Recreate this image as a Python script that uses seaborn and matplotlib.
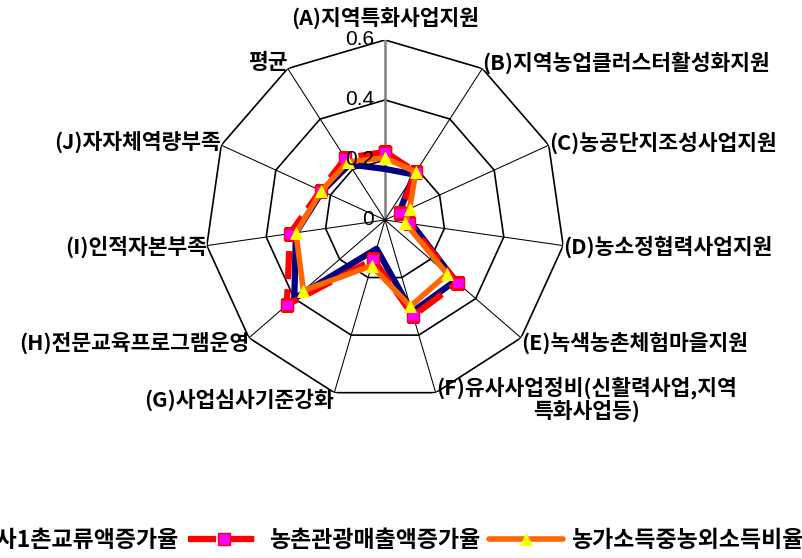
import matplotlib
matplotlib.use('Agg')

import numpy as np
import pandas as pd
import matplotlib.pyplot as plt
import seaborn as sns

# === data ===
categories = ["(A)지역특화사업지원", "(B)지역농업클러스터활성화지원", "(C)농공단지조성사업지원",
              "(D)농소정협력사업지원", "(E)녹색농촌체험마을지원",
              "(F)유사사업정비(신활력사업,지역\n특화사업등)", "(G)사업심사기준강화",
              "(H)전문교육프로그램운영", "(I)인적자본부족", "(J)자자체역량부족", "평균"]
exchange = [0.17, 0.18, 0.05, 0.09, 0.31, 0.32, 0.10, 0.40, 0.30, 0.23, 0.22]
tourism = [0.227, 0.19, 0.055, 0.08, 0.32, 0.333, 0.137, 0.433, 0.32, 0.236, 0.245]
income = [0.207, 0.19, 0.09, 0.068, 0.275, 0.30, 0.159, 0.36, 0.30, 0.233, 0.23]
series_names = ["1사1촌교류액증가율", "농촌관광매출액증가율", "농가소득중농외소득비율"]
ticks = [0, 0.2, 0.4, 0.6]

sns.set_style("white")
plt.rcParams['font.family'] = ['Noto Sans CJK KR', 'DejaVu Sans']
plt.rcParams['text.color'] = 'black'

n = len(categories)
theta = np.linspace(0, 2 * np.pi, n, endpoint=False)
theta_c = np.append(theta, theta[0])

fig = plt.figure(figsize=(8.02, 5.58), dpi=100)
ax = fig.add_axes([0.2556, 0.2832, 0.4489, 0.6452], projection='polar')
ax.set_theta_zero_location('N')
ax.set_theta_direction(-1)
ax.grid(False)
ax.spines['polar'].set_visible(False)
ax.set_xticks([])
ax.set_yticks([])

# polygon grid + spokes
for r in ticks[1:]:
    ax.plot(theta_c, [r] * (n + 1), color='black', lw=1.2, zorder=1)
for i, t in enumerate(theta):
    if i == 0:
        ax.plot([t, t], [0, ticks[-1]], color='#808080', lw=1.8, zorder=1)
    else:
        ax.plot([t, t], [0, ticks[-1]], color='black', lw=0.75, zorder=1)

# series
def close(v):
    return list(v) + [v[0]]

df = pd.DataFrame({"theta": theta_c, "exchange": close(exchange),
                   "tourism": close(tourism), "income": close(income)})

sns.lineplot(data=df, x="theta", y="exchange", ax=ax, sort=False, estimator=None,
             color='#000080', lw=4.5, label=series_names[0], zorder=3)
sns.lineplot(data=df, x="theta", y="tourism", ax=ax, sort=False, estimator=None,
             color='#FF0000', lw=4.5, dashes=(4.5, 1.6), marker='s', markersize=8,
             markerfacecolor='#FF00FF', markeredgecolor='#FF0000', markeredgewidth=1.0,
             label=series_names[1], zorder=4)
sns.lineplot(data=df, x="theta", y="income", ax=ax, sort=False, estimator=None,
             color='#FF6600', lw=4.0, marker='^', markersize=9,
             markerfacecolor='#FFFF00', markeredgecolor='#FFFF00', markeredgewidth=0.5,
             label=series_names[2], zorder=5)
ax.set_xlabel('')
ax.set_ylabel('')
ax.set_ylim(0, ticks[-1])

# value labels along the top spoke
for v in ticks:
    ax.annotate(f"{v:g}", xy=(0, v), xytext=(-8, 0), textcoords='offset points',
                ha='right', va='center', fontsize=15, color='black',
                family='Liberation Sans', zorder=6)

# category labels at outer vertices
for i, (t, lab) in enumerate(zip(theta, categories)):
    s = np.sin(t)
    if i == 0:
        ha, dx, dy = 'center', 0, 16
    else:
        ha = 'left' if s > 0 else 'right'
        dx, dy = 0, 5 * np.cos(t)
    ax.annotate(lab, xy=(t, ticks[-1]), xytext=(dx, dy), textcoords='offset points',
                ha=ha, va='center', multialignment='center', fontsize=15.5,
                fontweight='bold', linespacing=1.05, color='black', annotation_clip=False)

# legend runs past the left edge, as in the source image
leg = ax.legend(loc='center right', bbox_to_anchor=(1.027, 0.032), bbox_transform=fig.transFigure,
                ncol=3, frameon=False, handlelength=3.2, handletextpad=0.35,
                columnspacing=0.4, prop={'size': 16.5, 'weight': 'bold'})

fig.savefig("out.png", dpi=100, facecolor='white')
plt.close(fig)
